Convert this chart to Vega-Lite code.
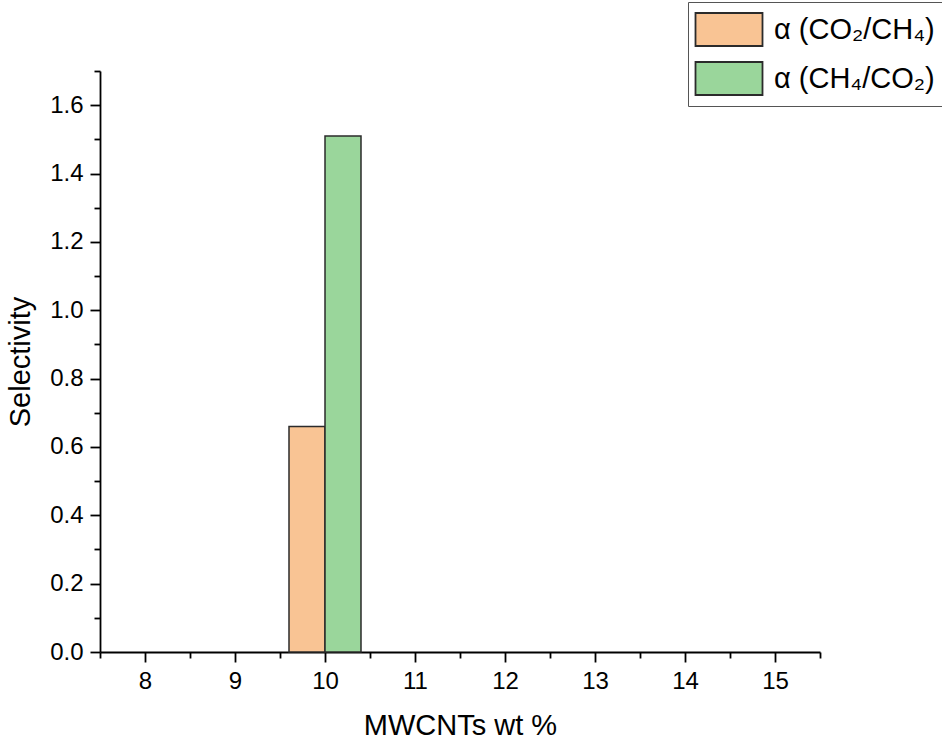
{
  "$schema": "https://vega.github.io/schema/vega-lite/v6.json",
  "width": 720,
  "height": 581,
  "autosize": "none",
  "padding": {"left": 100, "top": 71, "right": 122, "bottom": 88},
  "config": {
    "view": {"stroke": null},
    "font": "Liberation Sans",
    "axis": {"domainColor": "#000", "tickColor": "#000", "domainWidth": 1.8, "tickWidth": 1.8, "labelColor": "#000", "titleColor": "#000", "labelFont": "Liberation Sans", "titleFont": "Liberation Sans", "grid": false}
  },
  "data": {"values": [
    {"series": "α (CO₂/CH₄)", "x0": 9.6, "x1": 10.0, "value": 0.66},
    {"series": "α (CH₄/CO₂)", "x0": 10.0, "x1": 10.4, "value": 1.51}
  ]},
  "resolve": {"axis": {"x": "independent", "y": "independent"}},
  "layer": [
    {
      "mark": {"type": "bar", "stroke": "#2b2b2b", "strokeWidth": 1.5},
      "encoding": {
        "x": {"field": "x0", "type": "quantitative", "scale": {"domain": [7.5, 15.5], "nice": false, "zero": false},
              "axis": {"orient": "bottom", "values": [8, 9, 10, 11, 12, 13, 14, 15], "tickSize": 10, "labelFontSize": 24, "labelPadding": 7, "title": "MWCNTs wt %", "titleFontSize": 29, "titleFontWeight": "normal", "titlePadding": 18, "labelFlush": false}},
        "x2": {"field": "x1"},
        "y": {"field": "value", "type": "quantitative", "scale": {"domain": [0, 1.7], "nice": false},
              "axis": {"orient": "left", "values": [0, 0.2, 0.4, 0.6, 0.8, 1.0, 1.2, 1.4, 1.6], "format": ".1f", "tickSize": 10, "labelFontSize": 24, "labelPadding": 7, "title": "Selectivity", "titleFontSize": 29, "titleFontWeight": "normal", "titlePadding": 14, "labelFlush": false}},
        "y2": {"datum": 0},
        "color": {"field": "series", "type": "nominal",
                  "scale": {"domain": ["α (CO₂/CH₄)", "α (CH₄/CO₂)"], "range": ["#F9C494", "#9AD69B"]},
                  "legend": {"title": null, "orient": "none", "legendX": 588, "legendY": -69,
                             "symbolType": "M-1,-0.825L2.35,-0.825L2.35,0.825L-1,0.825Z", "symbolSize": 1600, "symbolStrokeColor": "#2b2b2b", "symbolStrokeWidth": 1.8,
                             "labelFontSize": 29, "labelLimit": 400, "labelColor": "#000", "labelFont": "Liberation Sans", "rowPadding": 7, "labelOffset": 37.5,
                             "strokeColor": "#555", "padding": 6.5, "fillColor": "#fff", "symbolOpacity": 1}}
      }
    },
    {
      "mark": {"type": "point", "opacity": 0},
      "encoding": {
        "x": {"field": "x0", "type": "quantitative", "scale": {"domain": [7.5, 15.5], "nice": false, "zero": false},
              "axis": {"orient": "bottom", "values": [7.5, 8.5, 9.5, 10.5, 11.5, 12.5, 13.5, 14.5, 15.5], "tickSize": 6, "labels": false, "domain": false, "title": null}},
        "y": {"field": "value", "type": "quantitative", "scale": {"domain": [0, 1.7], "nice": false},
              "axis": {"orient": "left", "values": [0.1, 0.3, 0.5, 0.7, 0.9, 1.1, 1.3, 1.5, 1.7], "tickSize": 6, "labels": false, "domain": false, "title": null}}
      }
    }
  ]
}
